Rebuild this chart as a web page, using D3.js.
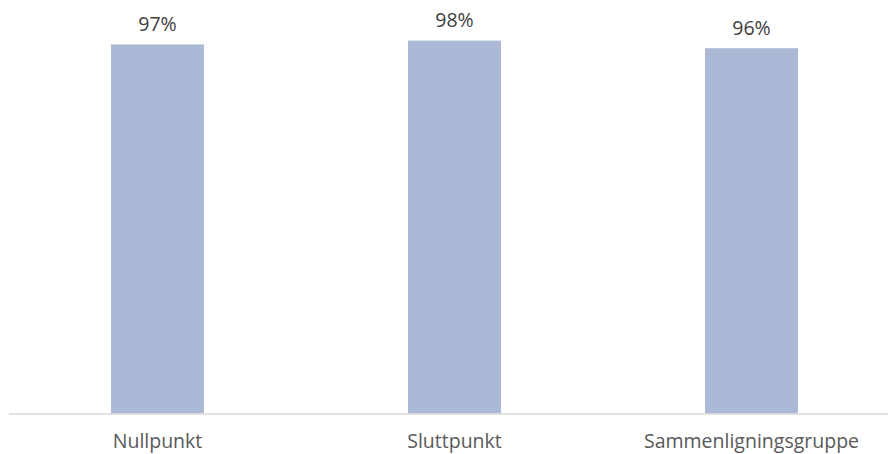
<!DOCTYPE html>
<html><head><meta charset="utf-8">
<script src="https://cdn.jsdelivr.net/npm/d3@7"></script>
<style>body{margin:0;background:#fff}svg{display:block}</style>
</head><body>
<svg id="chart" width="888" height="454"></svg>
<script>
const categories = ["Nullpunkt", "Sluttpunkt", "Sammenligningsgruppe"];
const values = [97, 98, 96];
const valueLabels = ["97%", "98%", "96%"];

const svg = d3.select("#chart");
const x = d3.scaleBand().domain(categories).range([9, 900]).paddingInner(0.687).paddingOuter(0.3435);
const y = d3.scaleLinear().domain([0, 100]).range([413.5, 33]);

svg.append("g").selectAll("rect").data(values).join("rect")
  .attr("x", (d, i) => x(categories[i]))
  .attr("width", x.bandwidth())
  .attr("y", d => y(d))
  .attr("height", d => y(0) - y(d))
  .attr("fill", "#ABB9D7");

const axis = svg.append("g").attr("transform", `translate(0,${y(0)})`)
  .call(d3.axisBottom(x).tickSize(0).tickPadding(0));
axis.select(".domain").attr("stroke", "#D9D9D9").attr("stroke-width", 1.3).attr("d", "M9,0.5H900");
axis.selectAll(".tick text").attr("y", 34.5).attr("dy", null)
  .attr("fill", "#595959").style("font-family", "'Open Sans', sans-serif").style("font-size", "19.5px");

svg.append("g").selectAll("text").data(values).join("text")
  .attr("x", (d, i) => x(categories[i]) + x.bandwidth() / 2)
  .attr("y", d => y(d) - 13.5)
  .attr("text-anchor", "middle")
  .attr("fill", "#404040")
  .style("font-family", "'Open Sans', sans-serif").style("font-size", "19.5px")
  .text((d, i) => valueLabels[i]);
</script>
</body></html>
